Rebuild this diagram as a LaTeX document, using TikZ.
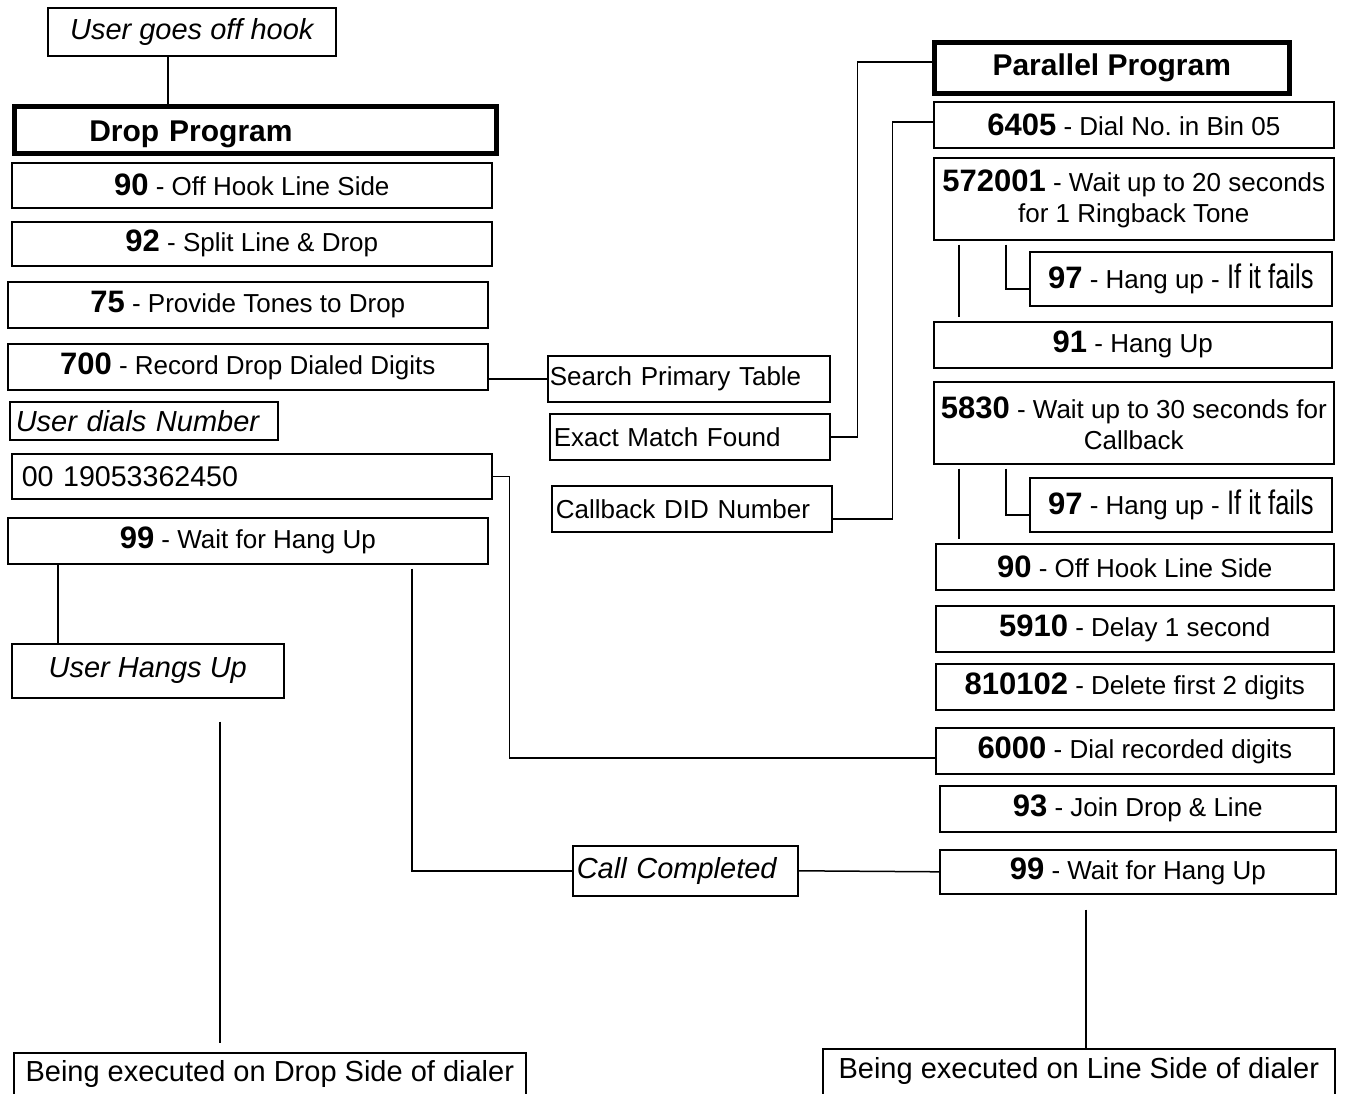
\documentclass[tikz,border=0pt]{standalone}
\usepackage{fontspec}
\setmainfont{Liberation Sans}
\usepackage{graphicx}
\usepackage{tikz}
\usetikzlibrary{positioning}
\newcommand{\regfont}{\fontsize{26}{31}\selectfont}
\newcommand{\numfont}{\fontsize{31}{31}\selectfont\bfseries}
\newcommand{\headfont}{\fontsize{30}{34}\selectfont\bfseries}
\newcommand{\userfont}{\fontsize{29}{34}\selectfont\itshape}
\newcommand{\cmdline}[2]{{\numfont #1} - #2}
\newcommand{\iffails}{\scalebox{0.75}[1]{\fontsize{34}{34}\selectfont If it fails}}
\tikzset{
    plainbox/.style={
        draw, line width=1.6pt,
        inner sep=0pt,
        anchor=north west,
        font=\regfont
    },
    cmdbox/.style 2 args={
        plainbox,
        minimum width=#1pt,
        minimum height=#2pt
    },
    headbox/.style 2 args={
        cmdbox={#1}{#2},
        line width=4.5pt,
        font=\headfont
    },
    userbox/.style 2 args={
        cmdbox={#1}{#2},
        font=\userfont
    },
    lefttext/.style 2 args={
        align=left,
        inner xsep=#1pt,
        text width=#2pt
    },
    % open at the bottom edge of the page
    sidebox/.style 2 args={
        plainbox,
        minimum width=#1pt,
        text height=#2pt,
        text depth=40pt,
        font=\fontsize{29}{34}\selectfont
    },
    conn/.style={line width=1.5pt},
}

\begin{document}
\frenchspacing
\begin{tikzpicture}[x=1pt, y=-1pt]
        \useasboundingbox (0,0) rectangle (1346,1093);

        % drop side
        \node[userbox={288}{48}] (offhook) at (47,7) {User goes off hook};
        \node[headbox={482}{47}, lefttext={75}{332}, text height=29pt, text depth=6pt] (drop) at (12,104) {Drop Program};
        \node[cmdbox={480}{45}] (d90) at (11,162) {\cmdline{90}{Off Hook Line Side}};
        \node[cmdbox={480}{44}] (d92) at (11,221) {\cmdline{92}{Split Line \& Drop}};
        \node[cmdbox={480}{46}] (d75) at (7,281) {\cmdline{75}{Provide Tones to Drop}};
        \node[cmdbox={480}{46}] (d700) at (7,343) {\cmdline{700}{Record Drop Dialed Digits}};
        \node[userbox={268}{38}, lefttext={6}{256}] (dials) at (9,401) {User dials Number};
        \node[cmdbox={480}{45}, lefttext={10}{460}, font=\fontsize{28.6}{32}\selectfont] (number) at (11,453) {00 19053362450};
        \node[cmdbox={480}{46}] (d99) at (7,517) {\cmdline{99}{Wait for Hang Up}};
        \node[userbox={272}{54}] (hangs) at (11,643) {User Hangs Up};
        \node[sidebox={512}{29}] (dropside) at (13,1052) {Being executed on Drop Side of dialer};

        % table lookup
        \node[cmdbox={282}{46}, lefttext={2}{278}] (search) at (547,355) {Search Primary Table};
        \node[cmdbox={280}{46}, lefttext={4}{272}] (exact) at (549,413) {Exact Match Found};
        \node[cmdbox={280}{46}, lefttext={4}{272}] (callback) at (551,485) {Callback DID Number};
        \node[userbox={225}{50}, lefttext={4}{217}] (completed) at (572,845) {Call Completed};

        % line side
        \node[headbox={355}{51}] (parallel) at (932,40) {Parallel Program};
        \node[cmdbox={400}{46}] (r6405) at (933,101) {\cmdline{6405}{Dial No. in Bin 05}};
        \node[cmdbox={400}{82}, align=center] (r572) at (933,157) {\cmdline{572001}{Wait up to 20 seconds}\\for 1 Ringback Tone};
        \node[cmdbox={302}{54}] (r97a) at (1029,251) {\cmdline{97}{Hang up - \iffails}};
        \node[cmdbox={398}{46}] (r91) at (933,321) {\cmdline{91}{Hang Up}};
        \node[cmdbox={400}{82}, align=center] (r5830) at (933,381) {\cmdline{5830}{Wait up to 30 seconds for}\\Callback};
        \node[cmdbox={302}{54}] (r97b) at (1029,477) {\cmdline{97}{Hang up - \iffails}};
        \node[cmdbox={398}{46}] (r90) at (935,543) {\cmdline{90}{Off Hook Line Side}};
        \node[cmdbox={398}{46}] (r5910) at (935,605) {\cmdline{5910}{Delay 1 second}};
        \node[cmdbox={398}{46}] (r810) at (935,663) {\cmdline{810102}{Delete first 2 digits}};
        \node[cmdbox={398}{46}] (r6000) at (935,727) {\cmdline{6000}{Dial recorded digits}};
        \node[cmdbox={396}{46}] (r93) at (939,785) {\cmdline{93}{Join Drop \& Line}};
        \node[cmdbox={396}{44}] (r99) at (939,849) {\cmdline{99}{Wait for Hang Up}};
        \node[sidebox={512}{30}] (lineside) at (822,1048) {Being executed on Line Side of dialer};

        % connectors
        \draw[conn] ([xshift=-24pt]offhook.south) -- ([xshift=-24pt]offhook.south |- drop.north);
        \draw[conn] (d700.east |- search.west) -- (search.west);
        \draw[conn] (exact.east) -- ++(27,0) |- ([yshift=6pt]parallel.west);
        \draw[conn] ([yshift=-10pt]callback.east) -- ++(60,0) |- ([yshift=3pt]r6405.west);
        \draw[conn] (number.east) -- ++(17,0) |- ([yshift=-7pt]r6000.west);
        \draw[conn, shorten <=4pt] ([xshift=164pt]d99.south) |- (completed.west);
        \draw[conn] (completed.east) -- (r99.west);
        \draw[conn] ([xshift=-190pt]d99.south) -- ([xshift=-190pt]d99.south |- hangs.north);
        \draw[conn, shorten <=23pt, shorten >=9pt] ([xshift=72pt]hangs.south) -- ([xshift=72pt]hangs.south |- dropside.north);
        \draw[conn, shorten <=15pt] ([xshift=-52pt]r99.south) -- ([xshift=-52pt]r99.south |- lineside.north);

        \foreach \src/\fal/\nxt in {r572/r97a/r91, r5830/r97b/r90}{
            \draw[conn, shorten <=4pt, shorten >=4pt] ([xshift=26pt]\src.south west) -- ([xshift=26pt]\src.south west |- \nxt.north);
            \draw[conn, shorten <=4pt] ([xshift=73pt]\src.south west) |- ([yshift=-10pt]\fal.west);
        }
\end{tikzpicture}
\end{document}
